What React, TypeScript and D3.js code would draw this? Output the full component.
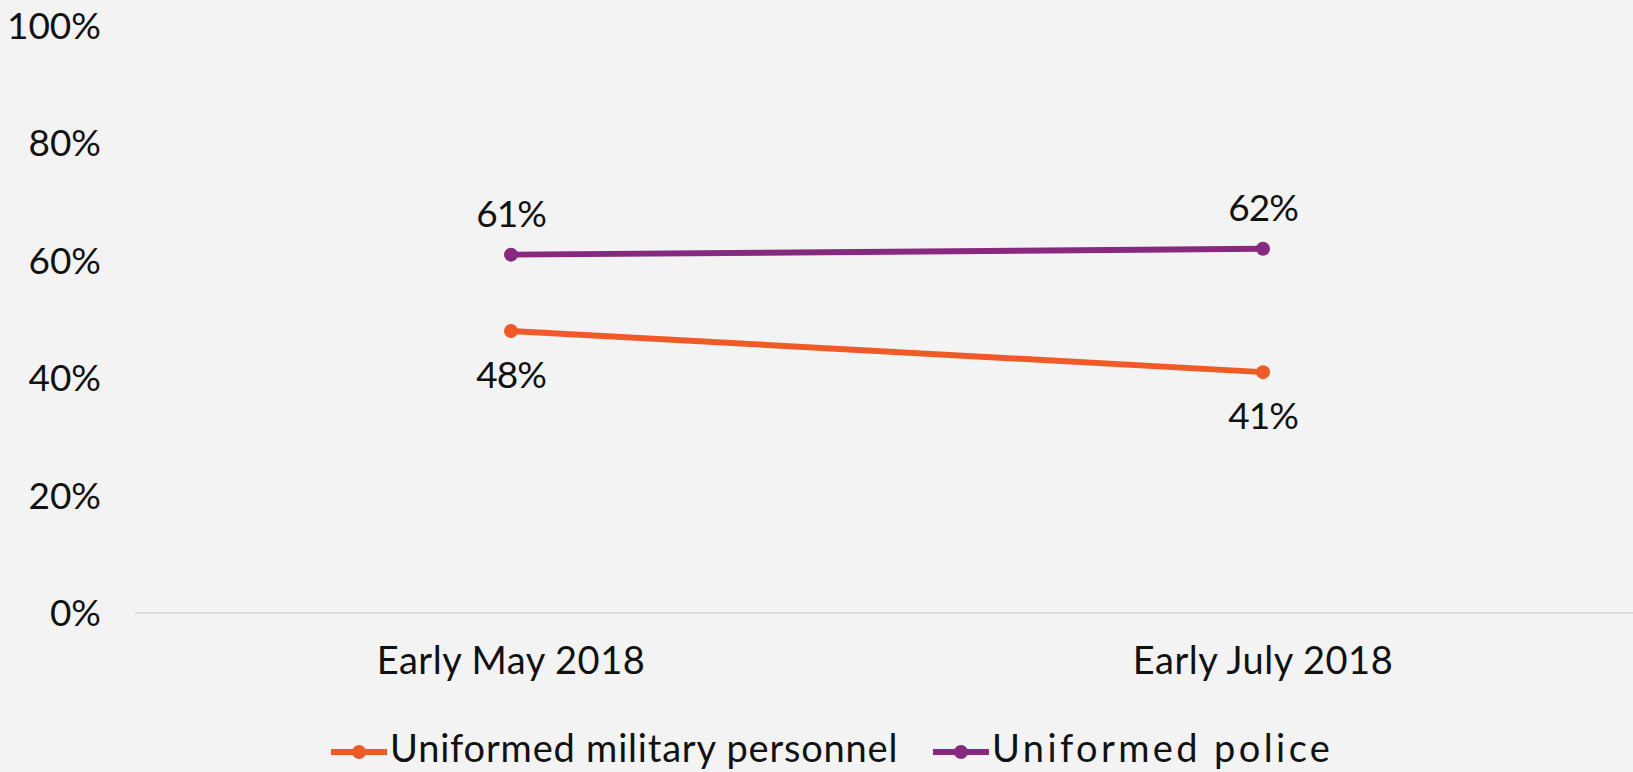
import React from "react";
import * as d3 from "d3";

const categories = ["Early May 2018", "Early July 2018"];
const seriesNames = ["Uniformed military personnel", "Uniformed police"];
const militaryValues = [48, 41];
const policeValues = [61, 62];
const yTicks = [0, 20, 40, 60, 80, 100];
const colors = ["#F05A28", "#87297F"];

const W = 1633;
const H = 772;
const FONT = "Lato, 'Open Sans', sans-serif";

export default function App() {
  const x = d3.scalePoint<string>().domain(categories).range([511, 1263]);
  const y = d3.scaleLinear().domain([0, 100]).range([613, 25.5]);
  const line = d3
    .line<number>()
    .x((_, i) => x(categories[i]) as number)
    .y((d) => y(d));

  const series = [
    { name: seriesNames[0], values: militaryValues, color: colors[0], labelPos: "below" },
    { name: seriesNames[1], values: policeValues, color: colors[1], labelPos: "above" },
  ];

  const legendItems = [
    { x: 331, color: colors[0], name: seriesNames[0], ls: 0.8 },
    { x: 933, color: colors[1], name: seriesNames[1], ls: 3.4 },
  ];

  return (
    <svg
      width={W}
      height={H}
      style={{ position: "fixed", left: 0, top: 0, background: "#f3f3f3" }}
      fontFamily={FONT}
    >
      <rect x={0} y={0} width={W} height={H} fill="#f3f3f3" />
      <line x1={135} x2={W} y1={y(0)} y2={y(0)} stroke="#dcdcdc" strokeWidth={2} />
      {yTicks.map((t) => (
        <text
          key={t}
          x={101}
          y={y(t)}
          dy="0.36em"
          textAnchor="end"
          fontSize={37}
          fill="#111"
        >
          {t}%
        </text>
      ))}
      {categories.map((c) => (
        <text
          key={c}
          x={x(c)}
          y={674}
          textAnchor="middle"
          fontSize={38}
          letterSpacing={0.5}
          fill="#111"
        >
          {c}
        </text>
      ))}
      {series.map((s) => (
        <g key={s.name}>
          <path d={line(s.values) || ""} fill="none" stroke={s.color} strokeWidth={6} />
          {s.values.map((v, i) => (
            <g key={i}>
              <circle cx={x(categories[i])} cy={y(v)} r={7} fill={s.color} />
              <text
                x={x(categories[i])}
                y={s.labelPos === "above" ? y(v) - 28 : y(v) + 57}
                textAnchor="middle"
                fontSize={37}
                letterSpacing={-1}
                fill="#111"
              >
                {v}%
              </text>
            </g>
          ))}
        </g>
      ))}
      {legendItems.map((l) => (
        <g key={l.name}>
          <line x1={l.x} x2={l.x + 56} y1={752} y2={752} stroke={l.color} strokeWidth={6} />
          <circle cx={l.x + 28} cy={752} r={7} fill={l.color} />
          <text x={l.x + 59} y={762} fontSize={38} letterSpacing={l.ls} fill="#111">
            {l.name}
          </text>
        </g>
      ))}
    </svg>
  );
}
